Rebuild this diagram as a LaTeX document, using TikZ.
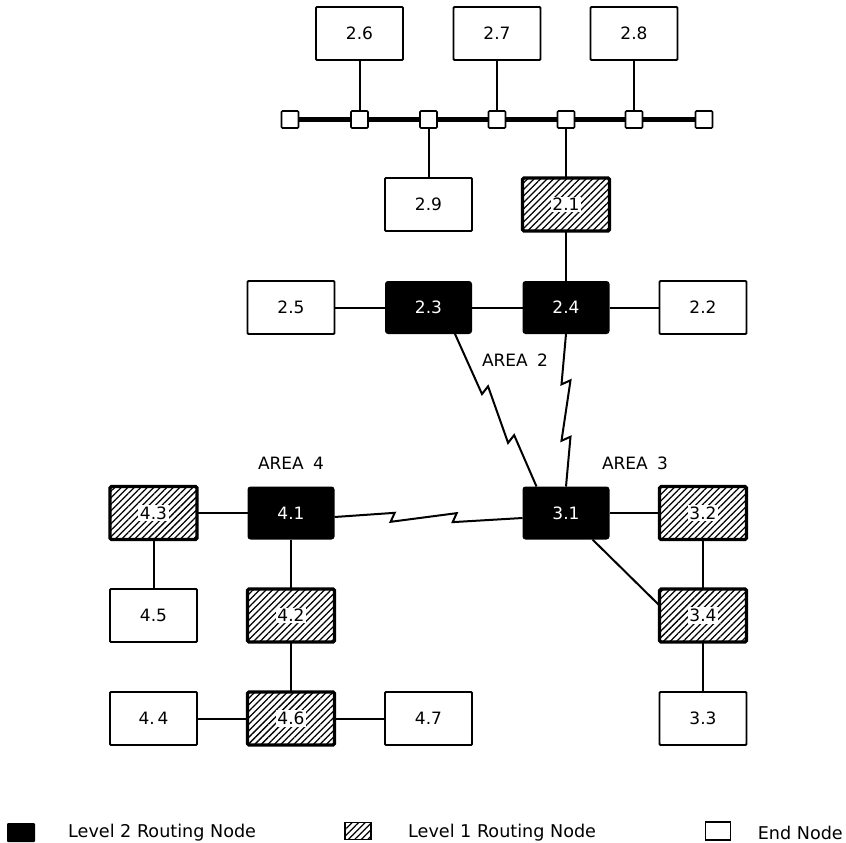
\documentclass[tikz,border=0pt]{standalone}
\usepackage{fontspec}
\setmainfont{DejaVu Sans}
\usetikzlibrary{calc,patterns.meta}
\newcommand\zigzag[5]{\draw[link] (#1) -- ($(#1)!#3!(#2)!#5!90:(#2)$) -- ($(#1)!#3!(#2)!-4pt!(#2)!#5!-90:(#2)$) -- ($(#1)!#4!(#2)!#5!90:(#2)$) -- ($(#1)!#4!(#2)!-4pt!(#2)!#5!-90:(#2)$) -- (#2);}
\begin{document}
\begin{tikzpicture}[x=1pt,y=-1pt,
  every node/.style={font=\fontsize{17}{20}\selectfont},
  box/.style={rectangle, minimum width=87pt, minimum height=53pt, inner sep=0pt, outer sep=0pt},
  endn/.style={box, draw, line width=1.9pt, fill=white, rounded corners=1pt},
  hatchfill/.style={pattern={Lines[angle=45,distance=4.6pt,line width=1.25pt]}},
  lone/.style={box, draw, line width=3.2pt, rounded corners=1.5pt, hatchfill, label={[fill=white,inner sep=1.6pt]center:#1}},
  ltwo/.style={box, fill=black, text=white, rounded corners=3pt},
  busq/.style={rectangle, draw, fill=white, line width=1.7pt, minimum size=17pt, inner sep=0pt, outer sep=0pt, rounded corners=1pt},
  link/.style={line width=2pt, line join=miter},
  bus/.style={line width=4.5pt},
  txt/.style={inner sep=0pt},
  legtxt/.style={inner sep=0pt, font=\fontsize{17.6}{20}\selectfont}
]
\useasboundingbox (0,0) rectangle (846,843);
% top row
\node[endn] (n26) at (359.5,33.5) {2.6};
\node[endn] (n27) at (497,33.5) {2.7};
\node[endn] (n28) at (634,33.5) {2.8};
% bus
\node[busq] (b1) at (290,119.5) {};
\node[busq] (b2) at (359.5,119.5) {};
\node[busq] (b3) at (428.5,119.5) {};
\node[busq] (b4) at (497,119.5) {};
\node[busq] (b5) at (566,119.5) {};
\node[busq] (b6) at (634,119.5) {};
\node[busq] (b7) at (704,119.5) {};
\draw[bus] (b1) -- (b2);
\draw[bus] (b2) -- (b3);
\draw[bus] (b3) -- (b4);
\draw[bus] (b4) -- (b5);
\draw[bus] (b5) -- (b6);
\draw[bus] (b6) -- (b7);
% row B
\node[endn] (n29) at (428.5,204.5) {2.9};
\node[lone={2.1}] (n21) at (566,204.5) {};
% row C
\node[endn] (n25) at (291,307.5) {2.5};
\node[ltwo] (n23) at (428.5,307.5) {2.3};
\node[ltwo] (n24) at (566,307.5) {2.4};
\node[endn] (n22) at (703,307.5) {2.2};
% row D
\node[lone={4.3}] (n43) at (153.5,513) {};
\node[ltwo] (n41) at (291,513) {4.1};
\node[ltwo] (n31) at (566,513) {3.1};
\node[lone={3.2}] (n32) at (703,513) {};
% row E
\node[endn] (n45) at (153.5,615.5) {4.5};
\node[lone={4.2}] (n42) at (291,615.5) {};
\node[lone={3.4}] (n34) at (703,615.5) {};
% row F
\node[endn] (n44) at (153.5,718.5) {4.\,4};
\node[lone={4.6}] (n46) at (291,718.5) {};
\node[endn] (n47) at (428.5,718.5) {4.7};
\node[endn] (n33) at (703,718.5) {3.3};
% area labels
\node[txt] (a2) at (515,360) {AREA\hspace{0.55em}2};
\node[txt] (a4) at (291,463) {AREA\hspace{0.55em}4};
\node[txt] (a3) at (635,463) {AREA\hspace{0.55em}3};
% plain links
\draw[link] (n26) -- (b2);
\draw[link] (n27) -- (b4);
\draw[link] (n28) -- (b6);
\draw[link] (b3) -- (n29);
\draw[link] (b5) -- (n21);
\draw[link] (n21) -- (n24);
\draw[link] (n25) -- (n23);
\draw[link] (n23) -- (n24);
\draw[link] (n24) -- (n22);
\draw[link] (n43) -- (n41);
\draw[link] (n31) -- (n32);
\draw[link] (n32) -- (n34);
\draw[link] (n43) -- (n45);
\draw[link] (n41) -- (n42);
\draw[link] (n42) -- (n46);
\draw[link] (n44) -- (n46);
\draw[link] (n46) -- (n47);
\draw[link] (n34) -- (n33);
\coordinate (d1) at ($(n31.south east)+(-17,0)$);
\coordinate (d2) at ($(n34.west)+(0,-10)$);
\draw[link] (d1) -- (d2);
% zigzag (wide area) links
\coordinate (z1s) at ($(n23.south east)+(-17,0)$);
\coordinate (z1e) at ($(n31.north west)+(14,0)$);
\coordinate (z2s) at (n24.south);
\coordinate (z2e) at (n31.north);
\coordinate (z3s) at ($(n41.east)+(0,4)$);
\coordinate (z3e) at ($(n31.west)+(0,5)$);
\zigzag{z1s}{z1e}{0.38}{0.70}{-4.5pt}
\zigzag{z2s}{z2e}{0.33}{0.70}{-4.5pt}
\zigzag{z3s}{z3e}{0.32}{0.65}{4.5pt}
% legend
\node[fill=black, rounded corners=1pt, minimum width=28pt, minimum height=19pt, inner sep=0pt] (k2) at (21,832.5) {};
\node[legtxt, anchor=west] (t2) at (68,832.5) {Level 2 Routing Node};
\node[draw, line width=1.6pt, hatchfill, minimum width=26pt, minimum height=17pt, inner sep=0pt] (k1) at (358,831) {};
\node[legtxt, anchor=west] (t1) at (408,832.5) {Level 1 Routing Node};
\node[draw, line width=1.3pt, fill=white, minimum width=25pt, minimum height=18pt, inner sep=0pt] (k0) at (718,831) {};
\node[legtxt, anchor=east] (t0) at (843,832.5) {End Node};
\end{tikzpicture}
\end{document}
